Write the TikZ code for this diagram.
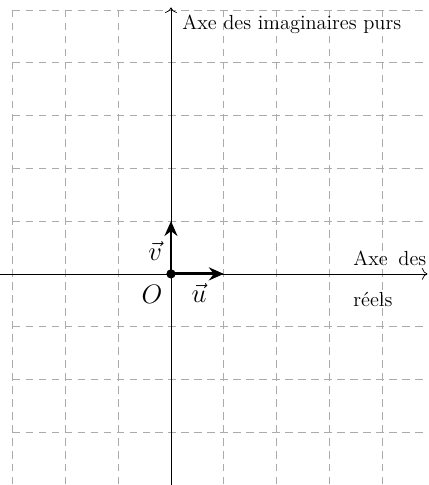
\documentclass[tikz,border=0pt]{standalone}
\usepackage{amsmath}
\usetikzlibrary{arrows.meta,positioning}
\definecolor{gridc}{HTML}{ABABAB}
\tikzset{
  gridl/.style={gridc, thin, dash pattern=on 4pt off 3pt},
  axis/.style={-{To[length=3pt]}, thin},
  vect/.style={-{Stealth[length=8pt,width=7pt]}, line width=1.6pt},
  dot/.style={circle, fill=black, inner sep=0pt, minimum size=5pt},
  lab/.style={font=\Large, inner sep=1pt},
  txt/.style={font=\fontsize{11}{13}\selectfont},
}

\begin{document}
\begin{tikzpicture}
  \useasboundingbox (-3.24,-4) rectangle (4.87,5.19);
  \draw[gridl] (-3,-3.99) grid (4.87,5);
  % axes
  \coordinate (xl) at (-3.24,0);
  \coordinate (xr) at (4.86,0);
  \coordinate (yb) at (0,-4);
  \coordinate (yt) at (0,5.05);
  \draw[axis] (xl) -- (xr);
  \draw[axis] (yb) -- (yt);
  \node[txt, anchor=west] (ylab) at (0.09,4.72) {Axe des imaginaires purs};
  \node[txt, anchor=west, text width=1.38cm, align=left, inner sep=0pt] (xlab) at (3.45,-0.1)
    {Axe\hfill des\\[9pt]r\'eels};
  % base vectors
  \node[dot] (O) at (0,0) {};
  \coordinate (u) at (1,0);
  \coordinate (v) at (0,1);
  \draw[vect] (O.center) -- (u);
  \draw[vect] (O.center) -- (v);
  \node[lab] (Olab) at (-0.36,-0.38) {$O$};
  \node[lab] (ulab) at (0.53,-0.36) {$\vec{u}$};
  \node[lab] (vlab) at (-0.3,0.44) {$\vec{v}$};
\end{tikzpicture}
\end{document}
